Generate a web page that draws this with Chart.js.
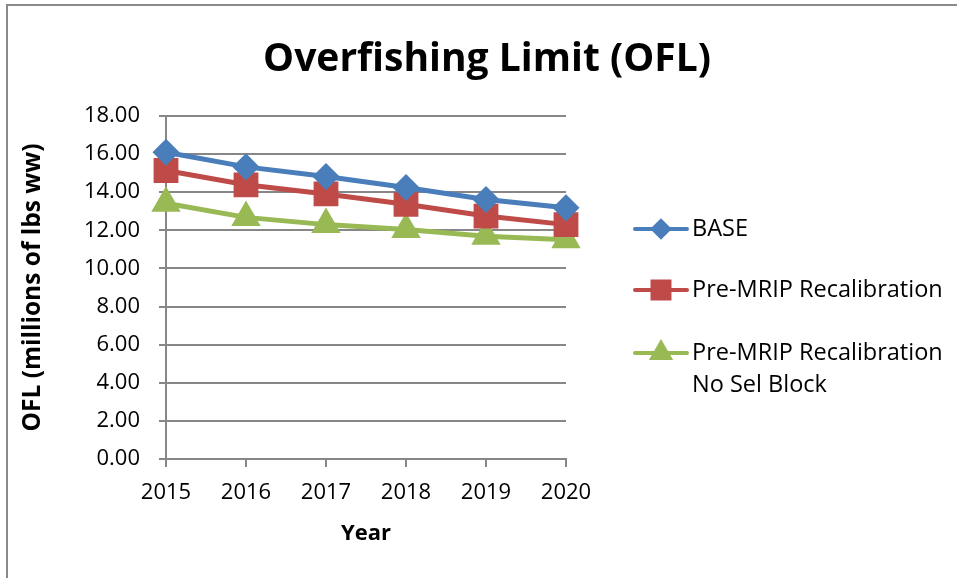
<!DOCTYPE html>
<html>
<head>
<meta charset="utf-8">
<script src="https://cdn.jsdelivr.net/npm/chart.js@4"></script>
<style>
  html, body { margin: 0; padding: 0; background: #fff; }
  #wrap { width: 957px; height: 578px; position: relative; }
</style>
</head>
<body>
<div id="wrap"><canvas id="oflChart" width="957" height="578"></canvas></div>
<script>
const years = ['2015', '2016', '2017', '2018', '2019', '2020'];
const baseValues = [16.10, 15.33, 14.82, 14.25, 13.62, 13.18];
const preMripValues = [15.14, 14.39, 13.91, 13.37, 12.75, 12.30];
const noSelBlockValues = [13.42, 12.68, 12.30, 12.04, 11.69, 11.50];
const seriesNames = ['BASE', 'Pre-MRIP Recalibration', ['Pre-MRIP Recalibration', 'No Sel Block']];
const yTicks = [0, 2, 4, 6, 8, 10, 12, 14, 16, 18];
const chartTitle = 'Overfishing Limit (OFL)';

const gridGray = '#878787';
const fontFamily = "'Open Sans', sans-serif";

// frame round the chart (only top and left edges are visible) + title centred on the whole frame
const framePlugin = {
  id: 'frame',
  beforeDraw(chart) {
    const ctx = chart.ctx;
    ctx.save();
    ctx.strokeStyle = '#8a8a8a';
    ctx.lineWidth = 2;
    ctx.beginPath();
    ctx.moveTo(7, 600);
    ctx.lineTo(7, 5);
    ctx.lineTo(960, 5);
    ctx.stroke();

    ctx.fillStyle = '#000';
    ctx.font = 'bold 39px ' + fontFamily;
    ctx.textAlign = 'center';
    ctx.textBaseline = 'middle';
    ctx.fillText(chartTitle, 487, 60);
    ctx.restore();
  }
};

// legend drawn by hand because one label wraps onto two lines
const sideLegend = {
  id: 'sideLegend',
  afterDraw(chart) {
    const ctx = chart.ctx;
    const rows = [229, 290, 353];
    const legendRadius = [8, 12, 10];
    ctx.save();
    chart.data.datasets.forEach((ds, i) => {
      const y = rows[i];
      ctx.strokeStyle = ds.borderColor;
      ctx.lineWidth = 4;
      ctx.lineCap = 'round';
      ctx.beginPath();
      ctx.moveTo(635, y);
      ctx.lineTo(687, y);
      ctx.stroke();
      ctx.fillStyle = ds.pointBackgroundColor;
      ctx.strokeStyle = ds.pointBorderColor;
      Chart.helpers.drawPoint(ctx, {
        pointStyle: ds.pointStyle,
        radius: legendRadius[i],
        borderWidth: 1,
        rotation: 0
      }, 661, y);
      ctx.fillStyle = '#000';
      ctx.font = '23.5px ' + fontFamily;
      ctx.textBaseline = 'middle';
      ctx.textAlign = 'left';
      const lines = [].concat(ds.label);
      lines.forEach((t, k) => ctx.fillText(t, 692, y + k * 32));
    });
    ctx.restore();
  }
};

const ctx = document.getElementById('oflChart').getContext('2d');
new Chart(ctx, {
  type: 'line',
  data: {
    labels: years,
    datasets: [{
      label: seriesNames[0],
      data: baseValues,
      borderColor: '#4a7ebb',
      borderWidth: 5,
      pointStyle: 'rectRot',
      pointRadius: 10,
      pointBackgroundColor: '#4a7ebb',
      pointBorderColor: '#4a7ebb',
      tension: 0
    }, {
      label: seriesNames[1],
      data: preMripValues,
      borderColor: '#be4b48',
      borderWidth: 5,
      pointStyle: 'rect',
      pointRadius: 14,
      pointBackgroundColor: '#be4b48',
      pointBorderColor: '#be4b48',
      tension: 0
    }, {
      label: seriesNames[2],
      data: noSelBlockValues,
      borderColor: '#98b954',
      borderWidth: 5,
      pointStyle: 'triangle',
      pointRadius: 12,
      pointBackgroundColor: '#98b954',
      pointBorderColor: '#98b954',
      tension: 0
    }]
  },
  options: {
    responsive: false,
    animation: false,
    devicePixelRatio: 1,
    layout: {
      padding: { top: 116, right: 391, bottom: 0, left: 0 }
    },
    plugins: {
      legend: { display: false },
      tooltip: { enabled: false },
      title: { display: false }
    },
    scales: {
      x: {
        offset: false,
        afterFit: (scale) => { scale.height = 119; },
        grid: {
          drawOnChartArea: false,
          drawTicks: true,
          tickLength: 8,
          color: gridGray,
          lineWidth: 2
        },
        border: { display: true, color: gridGray, width: 2 },
        ticks: {
          color: '#000',
          padding: 13,
          maxRotation: 0,
          autoSkip: false,
          font: { family: fontFamily, size: 22 }
        },
        title: {
          display: true,
          text: 'Year',
          color: '#000',
          font: { family: fontFamily, size: 22, weight: 'bold', lineHeight: 1.2 },
          padding: { top: 0, bottom: 31 }
        }
      },
      y: {
        min: 0,
        max: 18,
        afterFit: (scale) => { scale.width = 166; },
        afterBuildTicks: (scale) => { scale.ticks = yTicks.map(v => ({ value: v })); },
        grid: {
          drawOnChartArea: true,
          drawTicks: true,
          tickLength: 7,
          color: gridGray,
          lineWidth: 2
        },
        border: { display: true, color: gridGray, width: 2 },
        ticks: {
          color: '#000',
          padding: 19,
          font: { family: fontFamily, size: 22 },
          callback: (v) => Number(v).toFixed(2)
        },
        title: {
          display: true,
          text: 'OFL (millions of lbs ww)',
          color: '#000',
          font: { family: fontFamily, size: 24.5, weight: 'bold', lineHeight: 1.2 },
          padding: { top: 18, bottom: 0 }
        }
      }
    }
  },
  plugins: [framePlugin, sideLegend]
});
</script>
</body>
</html>
